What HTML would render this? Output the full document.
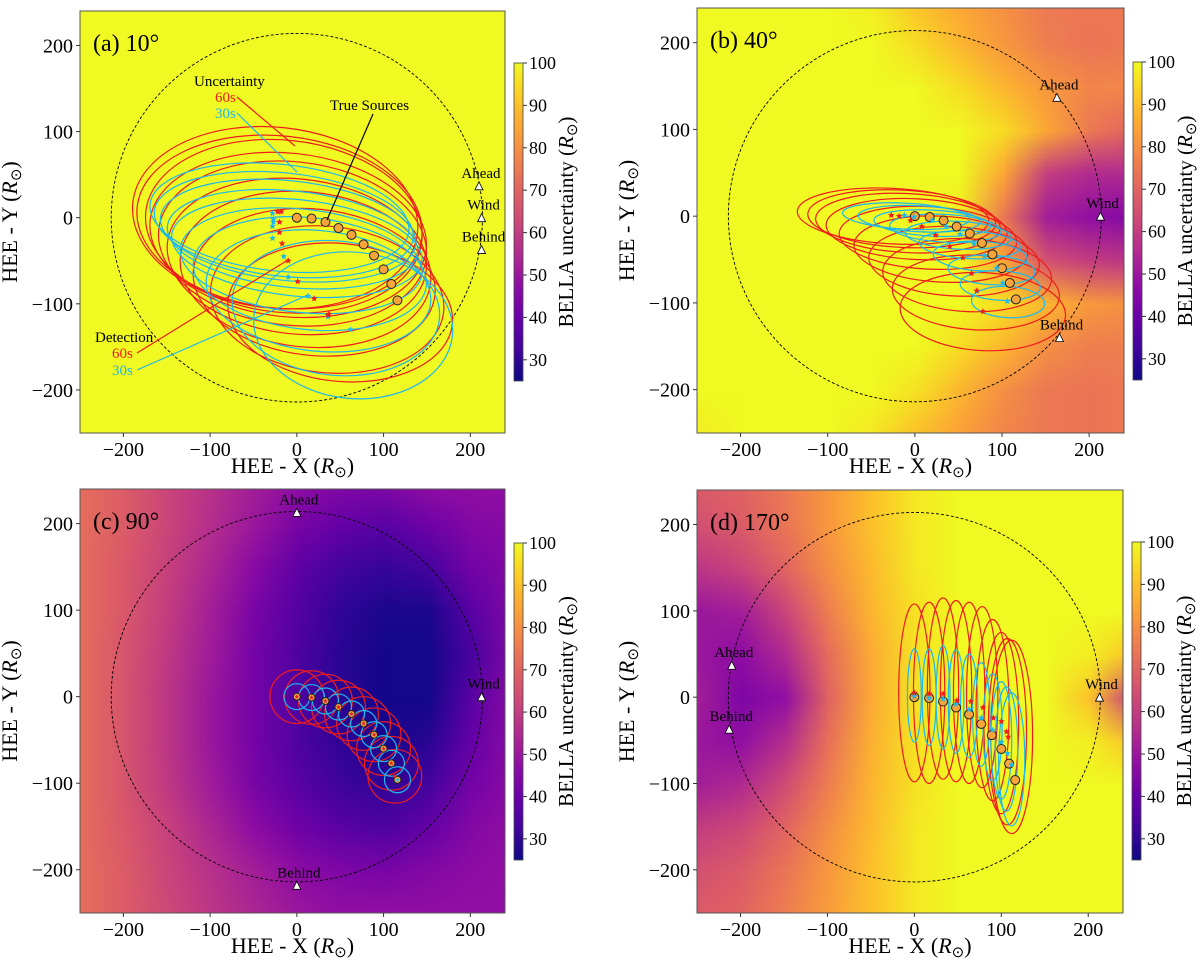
<!DOCTYPE html>
<html><head><meta charset="utf-8">
<style>
html,body{margin:0;padding:0;background:#fff;}
#wrap{position:relative;width:1200px;height:966px;overflow:hidden;font-family:"Liberation Serif",serif;}
canvas{position:absolute;}
svg{position:absolute;left:0;top:0;}
</style></head>
<body>
<div id="wrap">
<canvas id="cv0"></canvas>
<canvas id="cv1"></canvas>
<canvas id="cv2"></canvas>
<canvas id="cv3"></canvas>
<svg id="svg" width="1200" height="966"></svg>
</div>
<script>
// ---------- data ----------
const srcX = [0,17,33,48,63,77,89,100,109,116];
const srcY = [0,-1,-5,-12,-20,-31,-44,-60,-77,-96];
const xTicks = [-200,-100,0,100,200];
const yTicks = [-200,-100,0,100,200];
const cbTicks = [30,40,50,60,70,80,90,100];
const gridX = [-250,-200,-150,-100,-50,0,50,100,150,200,250];
const gridY = [250,200,150,100,50,0,-50,-100,-150,-200,-250];
const earthRadius = 214;
const titles = ["(a) 10\u00B0","(b) 40\u00B0","(c) 90\u00B0","(d) 170\u00B0"];

// panel a
const aRedCx=[-25,-20,-15,-10,-5,0,10,20,35,50];
const aRedCy=[0,-5,-10,-20,-30,-45,-60,-75,-95,-110];
const aRedRx=[165,165,160,160,155,150,145,140,135,130];
const aRedRy=[105,100,100,95,95,90,90,85,85,80];
const aCyCx=[-20,-15,-10,-5,0,5,15,25,45,65];
const aCyCy=[0,-8,-15,-25,-35,-50,-65,-85,-105,-125];
const aCyRx=[150,150,148,145,145,140,135,130,120,115];
const aCyRy=[62,60,58,56,56,60,65,70,78,85];
const aRedSx=[-22,-18,-20,-20,-17,-10,1,20,37,36];
const aRedSy=[7,7,-5,-17,-30,-50,-74,-94,-112,-113];
const aCySx=[-28,-27,-28,-28,-15,-10,13,36,62,-27];
const aCySy=[5,-5,-10,-24,-45,-69,-91,-115,-130,-2];
// panel b
const bRedCx=[-25,-15,-8,2,15,30,45,60,70,78];
const bRedCy=[0,-3,-8,-15,-25,-38,-52,-68,-88,-110];
const bRedRx=[110,108,106,104,102,100,98,97,96,95];
const bRedRy=[32,33,34,35,36,38,40,42,43,45];
const bCyCx=[-10,5,20,35,50,63,75,88,98,107];
const bCyCy=[0,-3,-8,-14,-22,-33,-46,-62,-80,-99];
const bCyRx=[73,70,67,64,61,58,54,50,46,42];
const bCyRy=[15,15,15,16,16,16,17,17,17,18];
const bRedSx=[-27,-18,-5,8,24,40,55,65,71,78];
const bRedSy=[1,0,-5,-12,-22,-35,-48,-66,-86,-110];
const bCySx=[-12,-1,20,36,52,68,80,94,101,106];
const bCySy=[1,-1,-5,-12,-21,-32,-46,-60,-77,-98];
// panel c
const cRedCx=[0,17,33,48,63,77,89,100,109,113];
const cRedCy=[0,-1,-5,-12,-20,-31,-44,-60,-77,-92];
const cRedR=[31,31,31,31,31,31,31,31,31,31];
const cCyR=[15,15,15,15,15,15,15,15,15,15];
// panel d
const dRedCx=[0,17,33,48,63,78,90,100,107,112];
const dRedCy=[5,5,10,7,5,0,-15,-30,-40,-46];
const dRedRx=[18,18,18,18,18,18,19,20,22,24];
const dRedRy=[103,105,105,105,105,105,105,105,108,112];
const dCyCx=[0,17,33,48,63,77,90,100,106,112];
const dCyCy=[2,0,0,-5,-10,-20,-35,-50,-60,-72];
const dCyRx=[8,8,8,9,10,10,11,12,13,15];
const dCyRy=[54,56,60,60,60,60,62,68,72,77];
const dRedSx=[0,17,33,49,65,79,91,100,106,108];
const dRedSy=[5,4,4,-4,-5,-12,-24,-28,-40,-46];
const dCySx=[0,17,33,48,63,77,90,100,107,112];
const dCySy=[1,-1,-2,-8,-14,-24,-38,-52,-65,-78];

// spacecraft
const craftNames=["Ahead","Wind","Behind"];
const craftX=[[210,213,213],[163,213,166],[0,213,0],[-210,213,-213]];
const craftY=[[37,0,-37],[137,0,-140],[213,0,-218],[37,0,-37]];

// heatmap grids (rows = gridY, cols = gridX)
const gridA=[
[100,100,100,100,100,100,100,100,100,100,100],[100,100,100,100,100,100,100,100,100,100,100],
[100,100,100,100,100,100,100,100,100,100,100],[100,100,100,100,100,100,100,100,100,100,100],
[100,100,100,100,100,100,100,100,100,100,100],[100,100,100,100,100,100,100,100,100,100,100],
[100,100,100,100,100,100,100,100,100,100,100],[100,100,100,100,100,100,100,100,100,100,100],
[100,100,100,100,100,100,100,100,100,100,100],[100,100,100,100,100,100,100,100,100,100,100],
[100,100,100,100,100,100,100,100,100,100,100]];
const gridB=[
[100,100,100,100,98,90,85,80,75,75,75],
[100,100,100,100,100,95,88,82,76,74,75],
[100,100,100,100,100,100,95,88,82,78,78],
[100,100,100,100,100,100,100,95,85,75,70],
[100,100,100,100,100,100,100,85,60,55,55],
[100,100,100,100,100,100,98,75,52,48,45],
[100,100,100,100,100,100,100,85,65,60,58],
[100,100,100,100,100,100,100,95,88,82,80],
[100,100,100,100,100,100,95,88,80,76,76],
[100,100,100,100,100,96,88,80,75,74,75],
[98,100,100,100,97,90,84,78,75,74,75]];
const gridC=[
[72,68,62,57,52,48,45,45,48,48,48],
[72,68,62,56,50,43,39,37,41,45,46],
[72,67,61,54,46,38,33,31,33,42,45],
[72,67,60,52,43,36,30,27,27,37,45],
[72,66,59,51,42,35,29,26,26,34,45],
[72,66,58,50,42,35,29,26,26,37,47],
[72,66,58,50,42,35,30,27,29,39,47],
[72,66,59,51,43,37,32,30,33,42,47],
[72,67,61,54,47,41,37,35,39,45,48],
[72,68,62,57,52,47,44,43,45,47,48],
[72,68,63,58,54,50,48,48,48,48,48]];
const gridD=[
[68,70,75,82,90,97,100,100,100,100,100],
[65,68,74,82,90,97,100,100,100,100,100],
[58,62,70,80,89,97,100,100,100,100,100],
[50,52,62,76,88,96,100,100,100,100,100],
[50,47,55,72,86,96,100,100,100,98,90],
[52,44,48,70,86,96,100,100,100,90,60],
[50,48,56,73,87,96,100,100,100,98,90],
[52,55,64,76,88,96,100,100,100,100,100],
[60,63,70,80,89,97,100,100,100,100,100],
[65,68,74,82,90,97,100,100,100,100,100],
[68,70,76,83,90,97,100,100,100,100,100]];

// ---------- layout ----------
const P=[
 {x:80,y:11,w:425,h:422,cbx:514,cby:63,cbh:318},
 {x:697,y:8,w:427,h:425,cbx:1133,cby:62,cbh:318},
 {x:80,y:489,w:425,h:424,cbx:514,cby:543,cbh:317},
 {x:697,y:490,w:426,h:423,cbx:1132,cby:542,cbh:318}];
const XMIN=-250,XMAX=240,YMIN=-250,YMAX=240,VMIN=25,VMAX=100;
function sx(p,x){return p.x+(x-XMIN)/(XMAX-XMIN)*p.w;}
function sy(p,y){return p.y+(YMAX-y)/(YMAX-YMIN)*p.h;}
function kx(p){return p.w/(XMAX-XMIN);}
function ky(p){return p.h/(YMAX-YMIN);}

const plasma=["#0d0887","#41049d","#6a00a8","#8f0da4","#b12a90","#cc4778","#e16462","#f2844b","#fca636","#fcce25","#f0f921"];
function hex(h){return [parseInt(h.substr(1,2),16),parseInt(h.substr(3,2),16),parseInt(h.substr(5,2),16)];}
function cmap(v){let t=(v-VMIN)/(VMAX-VMIN);t=Math.max(0,Math.min(1,t));const f=t*10;const i=Math.min(9,Math.floor(f));const r=f-i;const a=hex(plasma[i]),b=hex(plasma[i+1]);return [0,1,2].map(k=>Math.round(a[k]+(b[k]-a[k])*r));}

// ---------- heatmaps ----------
const grids=[gridA,gridB,gridC,gridD];
P.forEach((p,i)=>{
  const cv=document.getElementById('cv'+i);
  cv.style.left=p.x+'px';cv.style.top=p.y+'px';cv.width=p.w;cv.height=p.h;
  const small=document.createElement('canvas');small.width=gridX.length;small.height=gridY.length;
  const sc=small.getContext('2d');const img=sc.createImageData(gridX.length,gridY.length);
  grids[i].forEach((row,r)=>row.forEach((v,c)=>{const col=cmap(v);const o=(r*gridX.length+c)*4;img.data[o]=col[0];img.data[o+1]=col[1];img.data[o+2]=col[2];img.data[o+3]=255;}));
  sc.putImageData(img,0,0);
  const ctx=cv.getContext('2d');ctx.imageSmoothingEnabled=true;
  const dx=gridX[1]-gridX[0],dy=gridY[0]-gridY[1];
  const left=sx(p,gridX[0]-dx/2)-p.x, top=sy(p,gridY[0]+dy/2)-p.y;
  ctx.drawImage(small,left,top,gridX.length*dx*kx(p),gridY.length*dy*ky(p));
});

// ---------- svg ----------
const NS="http://www.w3.org/2000/svg";
const svg=document.getElementById('svg');
function el(tag,attrs,parent){const e=document.createElementNS(NS,tag);for(const k in attrs)e.setAttribute(k,attrs[k]);(parent||svg).appendChild(e);return e;}
function txt(s,attrs,parent){const e=el('text',attrs,parent);e.textContent=s;return e;}

const defs=el('defs',{});
const lg=el('linearGradient',{id:'cbg',x1:0,y1:1,x2:0,y2:0},defs);
plasma.forEach((c,i)=>el('stop',{offset:(i/10),'stop-color':c},lg));

function star(g,cx,cy,r,color){let pts=[];for(let k=0;k<10;k++){const a=-Math.PI/2+k*Math.PI/5;const rr=k%2?r*0.45:r;pts.push((cx+rr*Math.cos(a)).toFixed(1)+','+(cy+rr*Math.sin(a)).toFixed(1));}
  const s=el('polygon',{points:pts.join(' '),fill:color},g);
  
  }

const RED="#ee1c1c",CY="#1cb8ee";
const ell=[
 {rcx:aRedCx,rcy:aRedCy,rrx:aRedRx,rry:aRedRy,ccx:aCyCx,ccy:aCyCy,crx:aCyRx,cry:aCyRy,rsx:aRedSx,rsy:aRedSy,csx:aCySx,csy:aCySy,rot:6},
 {rcx:bRedCx,rcy:bRedCy,rrx:bRedRx,rry:bRedRy,ccx:bCyCx,ccy:bCyCy,crx:bCyRx,cry:bCyRy,rsx:bRedSx,rsy:bRedSy,csx:bCySx,csy:bCySy,rot:3},
 {rcx:cRedCx,rcy:cRedCy,rrx:cRedR,rry:cRedR,ccx:srcX,ccy:srcY,crx:cCyR,cry:cCyR,rsx:cRedCx,rsy:cRedCy,csx:srcX,csy:srcY,rot:0},
 {rcx:dRedCx,rcy:dRedCy,rrx:dRedRx,rry:dRedRy,ccx:dCyCx,ccy:dCyCy,crx:dCyRx,cry:dCyRy,rsx:dRedSx,rsy:dRedSy,csx:dCySx,csy:dCySy,rot:0}];
const letters=['a','b','c','d'];

P.forEach((p,i)=>{
  const L=letters[i];
  const g=el('g',{});
  const cp=el('clipPath',{id:'clip'+i},defs);el('rect',{x:p.x,y:p.y,width:p.w,height:p.h},cp);
  const pg=el('g',{'clip-path':'url(#clip'+i+')',},g);
  el('ellipse',{cx:sx(p,0),cy:sy(p,0),rx:earthRadius*kx(p),ry:earthRadius*ky(p),fill:'none',stroke:'#000','stroke-width':0.9,'stroke-dasharray':'3,2',},pg);
  const E=ell[i];
  for(let k=0;k<E.rcx.length;k++){
    el('ellipse',{cx:sx(p,E.rcx[k]),cy:sy(p,E.rcy[k]),rx:E.rrx[k]*kx(p),ry:E.rry[k]*ky(p),fill:'none',stroke:RED,'stroke-width':1.2,transform:'rotate('+E.rot+' '+sx(p,E.rcx[k])+' '+sy(p,E.rcy[k])+')',},pg);
  }
  for(let k=0;k<E.ccx.length;k++){
    el('ellipse',{cx:sx(p,E.ccx[k]),cy:sy(p,E.ccy[k]),rx:E.crx[k]*kx(p),ry:E.cry[k]*ky(p),fill:'none',stroke:CY,'stroke-width':1.2,transform:'rotate('+E.rot+' '+sx(p,E.ccx[k])+' '+sy(p,E.ccy[k])+')',},pg);
  }
  for(let k=0;k<srcX.length;k++){
    el('circle',{cx:sx(p,srcX[k]),cy:sy(p,srcY[k]),r:i==2?3.5:4.5,fill:'#f7a43a',stroke:'#222','stroke-width':1,},pg);
  }
  for(let k=0;k<E.csx.length;k++)star(pg,sx(p,E.csx[k]),sy(p,E.csy[k]),i==2?2.5:3.5,CY);
  for(let k=0;k<E.rsx.length;k++)star(pg,sx(p,E.rsx[k]),sy(p,E.rsy[k]),i==2?2.5:3.5,RED);
  for(let k=0;k<3;k++){
    const X=sx(p,craftX[i][k]),Y=sy(p,craftY[i][k]);
    el('polygon',{points:(X-4)+','+(Y+4)+' '+(X+4)+','+(Y+4)+' '+X+','+(Y-4),fill:'#fff',stroke:'#000','stroke-width':0.8,},pg);
    txt(craftNames[k],{x:X+2,y:Y-8,'font-size':15,'text-anchor':'middle',fill:'#000',},g);
  }
  el('rect',{x:p.x,y:p.y,width:p.w,height:p.h,fill:'none',stroke:'#555','stroke-width':1,},g);
  xTicks.forEach(t=>{const X=sx(p,t);el('line',{x1:X,x2:X,y1:p.y+p.h,y2:p.y+p.h+4,stroke:'#333'},g);
    txt(t<0?'\u2212'+(-t):String(t),{x:X,y:p.y+p.h+23,'font-size':20,'text-anchor':'middle',},g);});
  yTicks.forEach(t=>{const Y=sy(p,t);el('line',{x1:p.x-4,x2:p.x,y1:Y,y2:Y,stroke:'#333'},g);
    txt(t<0?'\u2212'+(-t):String(t),{x:p.x-7,y:Y+7,'font-size':20,'text-anchor':'end',},g);});
  const xt=txt('',{x:p.x+p.w/2,y:p.y+p.h+40,'font-size':22,'text-anchor':'middle',},g);
  xt.innerHTML='HEE - X  (<tspan font-style="italic">R</tspan><tspan font-size="15" dy="4">\u2299</tspan><tspan dy="-4">)</tspan>';
  const ytx=p.x-63,yty=p.y+p.h/2;
  const yt=txt('',{x:ytx,y:yty,'font-size':22,'text-anchor':'middle',transform:'rotate(-90 '+ytx+' '+yty+')',},g);
  yt.innerHTML='HEE - Y  (<tspan font-style="italic">R</tspan><tspan font-size="15" dy="4">\u2299</tspan><tspan dy="-4">)</tspan>';
  txt(titles[i],{x:p.x+13,y:p.y+40,'font-size':24,},g);
  const cb=el('g',{},g);
  el('rect',{x:p.cbx,y:p.cby,width:9,height:p.cbh,fill:'url(#cbg)',stroke:'#444','stroke-width':0.8},cb);
  cbTicks.forEach(t=>{const Y=p.cby+p.cbh*(VMAX-t)/(VMAX-VMIN);el('line',{x1:p.cbx+9,x2:p.cbx+13,y1:Y,y2:Y,stroke:'#333'},cb);
    txt(String(t),{x:p.cbx+15,y:Y+6,'font-size':18,},cb);});
  const cx=p.cbx+59,cy=p.cby+p.cbh/2;
  const cl=txt('',{x:cx,y:cy,'font-size':21,'text-anchor':'middle',transform:'rotate(-90 '+cx+' '+cy+')',},cb);
  cl.innerHTML='BELLA uncertainty (<tspan font-style="italic">R</tspan><tspan font-size="15" dy="4">\u2299</tspan><tspan dy="-4">)</tspan>';
});

const an=el('g',{});
txt('Uncertainty',{x:194,y:86,'font-size':15},an);
txt('60s',{x:215,y:102,'font-size':15,fill:RED},an);
txt('30s',{x:215,y:118,'font-size':15,fill:CY},an);
el('line',{x1:237,y1:97,x2:295,y2:146,stroke:RED,'stroke-width':1.2},an);
el('line',{x1:237,y1:113,x2:297,y2:172,stroke:CY,'stroke-width':1.2},an);
txt('True Sources',{x:330,y:110,'font-size':15},an);
el('line',{x1:373,y1:114,x2:327,y2:220,stroke:'#000','stroke-width':1.2},an);
txt('Detection',{x:95,y:342,'font-size':15},an);
txt('60s',{x:112,y:358,'font-size':15,fill:RED},an);
txt('30s',{x:112,y:375,'font-size':15,fill:CY},an);
el('line',{x1:137,y1:353,x2:288,y2:260,stroke:RED,'stroke-width':1.2},an);
el('line',{x1:137,y1:370,x2:308,y2:295,stroke:CY,'stroke-width':1.2},an);
</script>
</body></html>
